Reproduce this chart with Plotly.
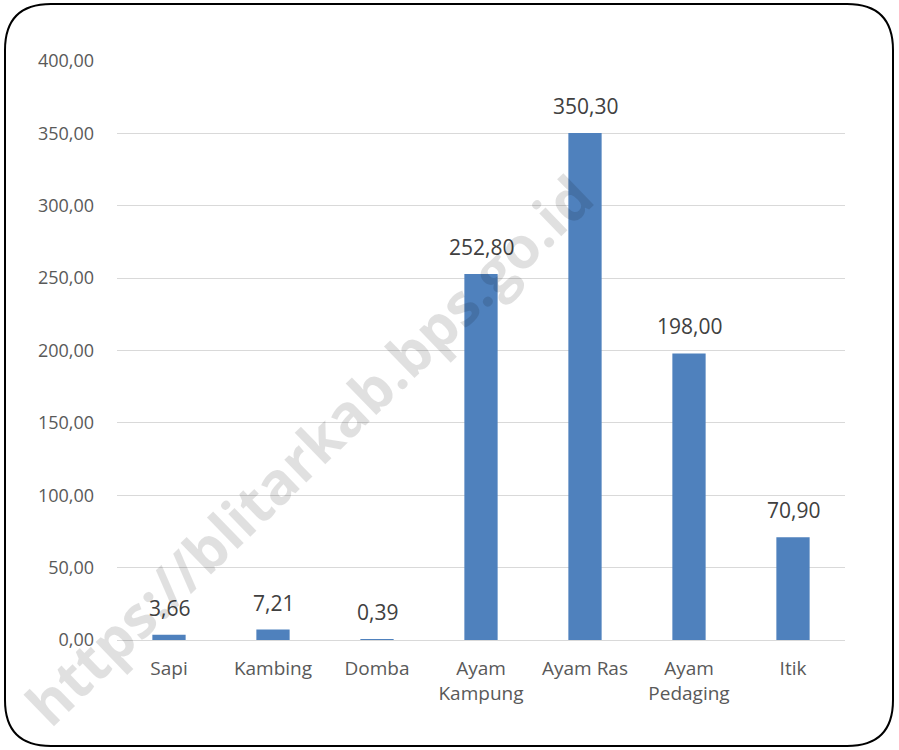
import plotly.graph_objects as go

categories = ["Sapi", "Kambing", "Domba", "Ayam<br>Kampung", "Ayam Ras", "Ayam<br>Pedaging", "Itik"]
values = [3.66, 7.21, 0.39, 252.80, 350.30, 198.00, 70.90]
y_ticks = [0, 50, 100, 150, 200, 250, 300, 350, 400]

W, H = 899, 750
L, R, T, B = 117, 845, 61, 640

fig = go.Figure(go.Bar(
    x=categories, y=values,
    marker=dict(color="#4F81BD", line=dict(width=0)),
    hoverinfo="x+y",
))

def px(x):
    return (x - L) / (R - L)

def py(y):
    return (B - y) / (B - T)

x0, x1, y0, y1, r = 5, 893, 4, 746, 46
path = (
    f"M {px(x0+r)},{py(y0)} L {px(x1-r)},{py(y0)} "
    f"Q {px(x1)},{py(y0)} {px(x1)},{py(y0+r)} "
    f"L {px(x1)},{py(y1-r)} Q {px(x1)},{py(y1)} {px(x1-r)},{py(y1)} "
    f"L {px(x0+r)},{py(y1)} Q {px(x0)},{py(y1)} {px(x0)},{py(y1-r)} "
    f"L {px(x0)},{py(y0+r)} Q {px(x0)},{py(y0)} {px(x0+r)},{py(y0)} Z"
)

annotations = [
    dict(x=c, y=v, xref="x", yref="y", text=f"{v:.2f}".replace(".", ","),
         showarrow=False, xanchor="center", yanchor="bottom", yshift=11,
         font=dict(size=21, color="#404040", family="Open Sans"))
    for c, v in zip(categories, values)
]
annotations.append(dict(
    text="<b>https://blitarkab.bps.go.id</b>", xref="paper", yref="paper",
    x=px(308), y=py(449), xanchor="center", yanchor="middle",
    textangle=-44, showarrow=False,
    font=dict(size=58, color="rgba(0,0,0,0.12)", family="Open Sans"),
))

fig.update_layout(
    width=W, height=H,
    margin=dict(l=L, r=W - R, t=T, b=H - B),
    paper_bgcolor="white", plot_bgcolor="white",
    separators=", ",
    bargap=0.68,
    showlegend=False,
    font=dict(family="Open Sans", color="#595959"),
    xaxis=dict(
        showgrid=False, showline=False, ticks="", ticklabelstandoff=15,
        tickfont=dict(size=19, color="#595959"),
    ),
    yaxis=dict(
        range=[0, 400], tickvals=y_ticks, tickformat=".2f",
        showgrid=True, gridcolor="#D9D9D9", gridwidth=1,
        zeroline=True, zerolinecolor="#D9D9D9", zerolinewidth=1,
        showline=False, ticks="", ticklabelstandoff=22,
        tickfont=dict(size=18, color="#595959"),
    ),
    shapes=[dict(type="path", xref="paper", yref="paper", path=path,
                 line=dict(color="black", width=2), fillcolor="rgba(0,0,0,0)", layer="above")],
    annotations=annotations,
)

fig.write_html("out.html", config={"displayModeBar": False},
               post_script="document.body.style.margin='0';document.body.style.overflow='hidden';")
